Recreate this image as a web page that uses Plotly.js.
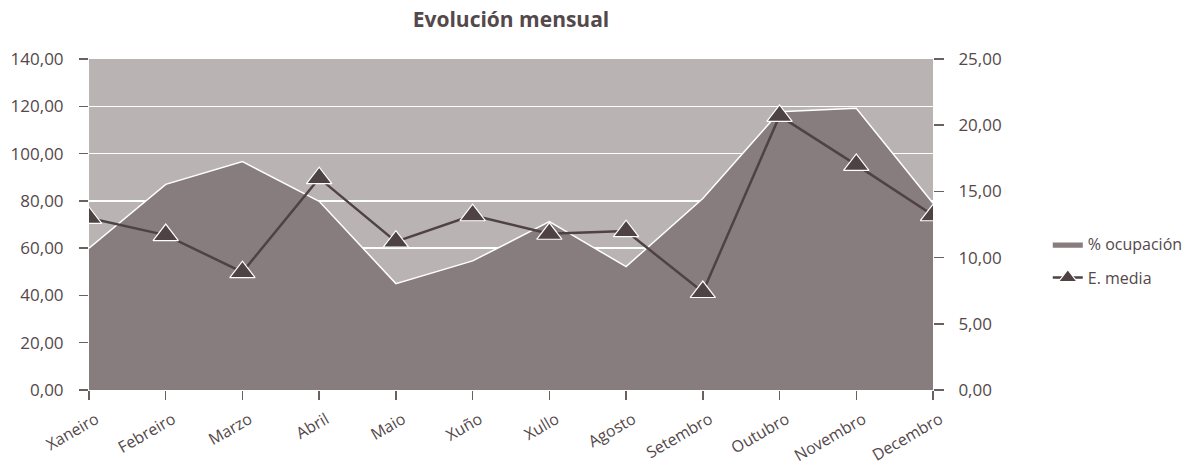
<!DOCTYPE html>
<html>
<head>
<meta charset="utf-8">
<script src="https://cdn.plot.ly/plotly-3.0.1.min.js"></script>
<style>html,body{margin:0;padding:0;background:#fff;}#chart{width:1200px;height:469px;}</style>
</head>
<body>
<div id="chart"></div>
<script>
const months = ["Xaneiro","Febreiro","Marzo","Abril","Maio","Xuño","Xullo","Agosto","Setembro","Outubro","Novembro","Decembro"];
const ocupacion = [60, 87, 96.6, 79.8, 45, 54.6, 71.2, 52.2, 81, 117.7, 119.2, 79];
const estanciaMedia = [13.0, 11.7, 8.9, 16.0, 11.2, 13.2, 11.8, 12.0, 7.4, 20.7, 17.0, 13.2];
const leftTicks = [0, 20, 40, 60, 80, 100, 120, 140];
const rightTicks = [0, 5, 10, 15, 20, 25];

const textColor = "#54484a";
const fontFam = "'Open Sans', 'Noto Sans', sans-serif";

const traces = [
  {
    x: months.map((m, i) => i),
    y: ocupacion,
    name: "% ocupación",
    type: "scatter",
    mode: "lines",
    fill: "tozeroy",
    fillcolor: "#877d7e",
    line: {color: "#ffffff", width: 1.5},
    legendgroup: "a",
    yaxis: "y"
  },
  {
    x: months.map((m, i) => i),
    y: estanciaMedia,
    name: "E. media",
    type: "scatter",
    mode: "lines+markers",
    line: {color: "#4f4245", width: 2.5},
    marker: {symbol: "triangle-up", size: 22, color: "#4f4245", line: {color: "#ffffff", width: 1.2}},
    legendgroup: "b",
    yaxis: "y2"
  }
];

const layout = {
  width: 1200,
  height: 469,
  margin: {l: 89, r: 265, t: 59, b: 79},
  paper_bgcolor: "#ffffff",
  plot_bgcolor: "#b9b3b3",
  separators: ",.",
  font: {family: fontFam, size: 17, color: textColor},
  title: {
    text: "<b>Evolución mensual</b>",
    font: {family: fontFam, size: 21, color: textColor},
    x: 0.5, xref: "paper",
    y: 0.958, yref: "container", yanchor: "middle"
  },
  showlegend: true,
  legend: {
    x: 1.136, xanchor: "left",
    y: 0.39, yanchor: "middle",
    font: {family: fontFam, size: 16, color: textColor},
    traceorder: "grouped",
    tracegroupgap: 10,
    bgcolor: "rgba(0,0,0,0)"
  },
  xaxis: {
    type: "linear",
    range: [0, 11],
    tickmode: "array",
    tickvals: months.map((m, i) => i),
    ticktext: months,
    tickangle: -30,
    ticks: "outside",
    ticklen: 9,
    tickwidth: 1.5,
    tickcolor: "#6a5f61",
    ticklabelshift: 7,
    ticklabelstandoff: 4,
    showgrid: false,
    zeroline: false,
    showline: false,
    tickfont: {family: fontFam, size: 16, color: textColor}
  },
  yaxis: {
    range: [0, 140],
    tickmode: "array",
    tickvals: leftTicks,
    tickformat: ".2f",
    ticks: "outside",
    ticklen: 9,
    tickwidth: 1.5,
    tickcolor: "#6a5f61",
    ticklabelstandoff: 12,
    showgrid: true,
    gridcolor: "#ffffff",
    gridwidth: 1.5,
    zeroline: false,
    showline: false,
    tickfont: {family: fontFam, size: 17, color: textColor}
  },
  yaxis2: {
    range: [0, 25],
    overlaying: "y",
    side: "right",
    tickmode: "array",
    tickvals: rightTicks,
    tickformat: ".2f",
    ticks: "outside",
    ticklen: 10,
    tickwidth: 1.5,
    tickcolor: "#6a5f61",
    ticklabelstandoff: 11,
    showgrid: false,
    zeroline: false,
    showline: false,
    tickfont: {family: fontFam, size: 17, color: textColor}
  }
};

Plotly.newPlot("chart", traces, layout, {displayModeBar: false, staticPlot: true});
</script>
</body>
</html>
